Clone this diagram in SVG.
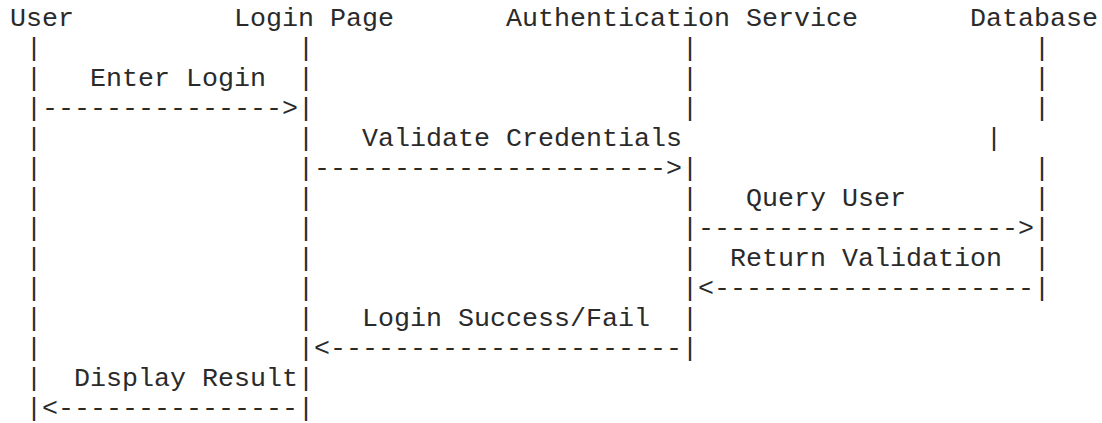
<svg xmlns="http://www.w3.org/2000/svg" width="1102" height="423" viewBox="0 0 1102 423">
  <style>
    /* monospace grid: 16px per column, 30px per row */
    text { font-family: "Liberation Mono", "DejaVu Sans Mono", monospace; font-size: 26.667px; fill: #2a2a2a; white-space: pre; }
  </style>
  <rect width="1102" height="423" fill="#ffffff"/>

  <!-- participants: header label + lifeline -->
  <g id="user">
    <text x="10" y="25.7">User</text>
    <text>
      <tspan x="26" y="55.7">|</tspan><tspan x="26" y="85.7">|</tspan><tspan x="26" y="115.7">|</tspan>
      <tspan x="26" y="145.7">|</tspan><tspan x="26" y="175.7">|</tspan><tspan x="26" y="205.7">|</tspan>
      <tspan x="26" y="235.7">|</tspan><tspan x="26" y="265.7">|</tspan><tspan x="26" y="295.7">|</tspan>
      <tspan x="26" y="325.7">|</tspan><tspan x="26" y="355.7">|</tspan><tspan x="26" y="385.7">|</tspan>
      <tspan x="26" y="415.7">|</tspan>
    </text>
  </g>

  <g id="login-page">
    <text x="234" y="25.7">Login Page</text>
    <text>
      <tspan x="298" y="55.7">|</tspan><tspan x="298" y="85.7">|</tspan><tspan x="298" y="115.7">|</tspan>
      <tspan x="298" y="145.7">|</tspan><tspan x="298" y="175.7">|</tspan><tspan x="298" y="205.7">|</tspan>
      <tspan x="298" y="235.7">|</tspan><tspan x="298" y="265.7">|</tspan><tspan x="298" y="295.7">|</tspan>
      <tspan x="298" y="325.7">|</tspan><tspan x="298" y="355.7">|</tspan><tspan x="298" y="385.7">|</tspan>
      <tspan x="298" y="415.7">|</tspan>
    </text>
  </g>

  <g id="auth-service">
    <text x="506" y="25.7">Authentication Service</text>
    <text>
      <tspan x="682" y="55.7">|</tspan><tspan x="682" y="85.7">|</tspan><tspan x="682" y="115.7">|</tspan>
      <tspan x="682" y="175.7">|</tspan><tspan x="682" y="205.7">|</tspan><tspan x="682" y="235.7">|</tspan>
      <tspan x="682" y="265.7">|</tspan><tspan x="682" y="295.7">|</tspan><tspan x="682" y="325.7">|</tspan>
      <tspan x="682" y="355.7">|</tspan>
    </text>
  </g>

  <g id="database">
    <text x="970" y="25.7">Database</text>
    <text>
      <tspan x="1034" y="55.7">|</tspan><tspan x="1034" y="85.7">|</tspan><tspan x="1034" y="115.7">|</tspan>
      <tspan x="986" y="145.7">|</tspan>
      <tspan x="1034" y="175.7">|</tspan><tspan x="1034" y="205.7">|</tspan><tspan x="1034" y="235.7">|</tspan>
      <tspan x="1034" y="265.7">|</tspan><tspan x="1034" y="295.7">|</tspan>
    </text>
  </g>

  <!-- messages: label row followed by arrow row -->
  <g id="connectors">
    <text x="90" y="85.7">Enter Login</text>
    <text x="42" y="115.7">---------------&gt;</text>

    <text x="362" y="145.7">Validate Credentials</text>
    <text x="314" y="175.7">----------------------&gt;</text>

    <text x="746" y="205.7">Query User</text>
    <text x="698" y="235.7">--------------------&gt;</text>

    <text x="730" y="265.7">Return Validation</text>
    <text x="698" y="295.7">&lt;--------------------</text>

    <text x="362" y="325.7">Login Success/Fail</text>
    <text x="314" y="355.7">&lt;----------------------</text>

    <text x="74" y="385.7">Display Result</text>
    <text x="42" y="415.7">&lt;---------------</text>
  </g>
</svg>
